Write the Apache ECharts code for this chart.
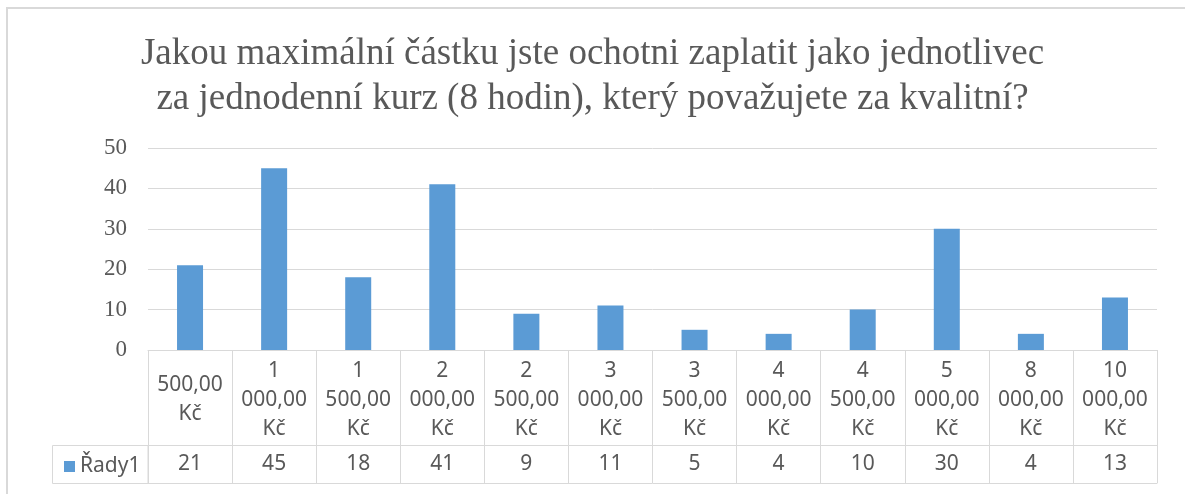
<!DOCTYPE html>
<html>
<head>
<meta charset="utf-8">
<script src="https://cdn.jsdelivr.net/npm/echarts@6/dist/echarts.min.js"></script>
<style>
  html, body { margin: 0; padding: 0; background: #fff; }
  #chart { width: 1185px; height: 494px; }
</style>
</head>
<body>
<div id="chart"></div>
<script>
// Maximální částka za jednodenní kurz
const titleLines = [
  'Jakou maximální částku jste ochotni zaplatit jako jednotlivec',
  'za jednodenní kurz (8 hodin), který považujete za kvalitní?'
]
const categories = [
  '500,00\nKč', '1\n000,00\nKč', '1\n500,00\nKč', '2\n000,00\nKč',
  '2\n500,00\nKč', '3\n000,00\nKč', '3\n500,00\nKč', '4\n000,00\nKč',
  '4\n500,00\nKč', '5\n000,00\nKč', '8\n000,00\nKč', '10\n000,00\nKč'
]
const seriesName = 'Řady1'
const counts = [21, 45, 18, 41, 9, 11, 5, 4, 10, 30, 4, 13]
const yMax = 50
const yStep = 10

const grey = '#595959'
const lineGrey = '#d9d9d9'
const barBlue = '#5b9bd5'

const chart = echarts.init(document.getElementById('chart'))

chart.setOption({
  animation: false,
  title: {
    text: titleLines.join('\n'),
    left: 'center',
    top: 27,
    textStyle: {
      fontFamily: 'Liberation Serif',
      fontSize: 37,
      fontWeight: 'normal',
      lineHeight: 45,
      color: grey
    }
  },
  legend: {
    data: [seriesName],
    left: 59,
    top: 451,
    icon: 'rect',
    itemWidth: 11,
    itemHeight: 11,
    itemGap: 6,
    textStyle: { fontFamily: 'Noto Sans', fontSize: 21, color: grey }
  },
  grid: { left: 148, right: 28, top: 148, bottom: 144 },
  xAxis: [{
    type: 'category',
    data: categories,
    position: 'bottom',
    axisLine: { lineStyle: { color: lineGrey } },
    axisTick: { show: true, length: 95, lineStyle: { color: lineGrey } },
    axisLabel: {
      interval: 0,
      margin: 50,
      verticalAlign: 'middle',
      fontFamily: 'Noto Sans',
      fontSize: 21,
      lineHeight: 29,
      color: grey
    }
  }, {
    type: 'category',
    data: categories,
    position: 'bottom',
    offset: 95,
    axisLine: { lineStyle: { color: lineGrey } },
    axisTick: { show: true, length: 38, lineStyle: { color: lineGrey } },
    axisLabel: {
      interval: 0,
      margin: 19,
      verticalAlign: 'middle',
      fontFamily: 'Noto Sans',
      fontSize: 21,
      color: grey,
      formatter: (v, i) => String(counts[i])
    }
  }, {
    type: 'category',
    data: categories,
    position: 'bottom',
    offset: 133,
    axisLine: { lineStyle: { color: lineGrey } },
    axisTick: { show: false },
    axisLabel: { show: false }
  }],
  yAxis: {
    type: 'value',
    min: 0,
    max: yMax,
    interval: yStep,
    axisLine: { show: false },
    axisTick: { show: false },
    splitLine: { lineStyle: { color: lineGrey } },
    axisLabel: {
      margin: 21,
      fontFamily: 'Liberation Serif',
      fontSize: 23,
      color: grey
    }
  },
  graphic: [
    { type: 'line', shape: { x1: 6, y1: 8, x2: 1185, y2: 8 }, style: { stroke: lineGrey, lineWidth: 2 } },
    { type: 'line', shape: { x1: 7, y1: 7, x2: 7, y2: 494 }, style: { stroke: lineGrey, lineWidth: 2 } },
    { type: 'rect', shape: { x: 52.5, y: 445.5, width: 95.5, height: 38 }, style: { fill: 'none', stroke: lineGrey, lineWidth: 1 } }
  ],
  series: [{
    name: seriesName,
    type: 'bar',
    barWidth: 26,
    xAxisIndex: 0,
    itemStyle: { color: barBlue },
    data: counts
  }]
})
</script>
</body>
</html>
